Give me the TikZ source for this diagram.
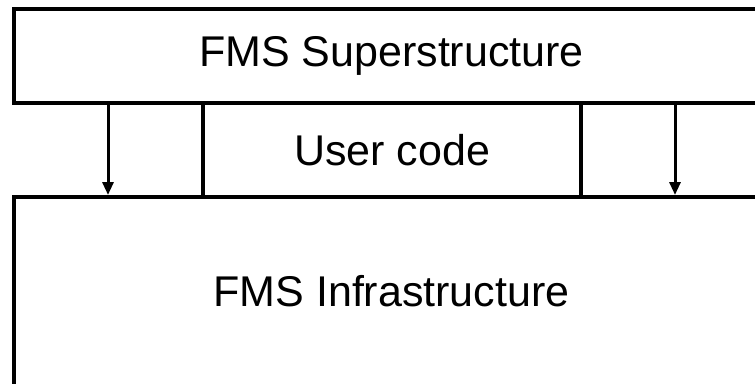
\documentclass[tikz,border=0pt]{standalone}
\usepackage{fontspec}
\setmainfont{Liberation Sans}
\usetikzlibrary{arrows.meta}
\tikzset{
layer/.style={
	  draw, line width=4pt, rectangle, inner sep=0pt,
	    font=\fontsize{43}{50}\selectfont},
link/.style={
	  line width=3pt, -{Triangle[length=13pt,width=11pt]}}
}

\begin{document}
\begin{tikzpicture}[x=1pt, y=-1pt]
	\useasboundingbox (0,0) rectangle (755,383);
	\node[layer, minimum width=755pt, minimum height=94pt] (super) at (391.5,56) {FMS Superstructure};
	\node[layer, minimum width=378pt, minimum height=94pt] (user) at (392,150) {User code};
	\node[layer, minimum width=755pt, minimum height=200pt] (infra) at (391.5,297) {};
	\node[font=\fontsize{43}{50}\selectfont] (infralabel) at (391.5,291) {FMS Infrastructure};
	\coordinate (left) at (108,150);
	\coordinate (right) at (675,150);
	\draw[link] (super.south -| left) -- (infra.north -| left);
	\draw[link] (super.south -| right) -- (infra.north -| right);
\end{tikzpicture}
\end{document}
